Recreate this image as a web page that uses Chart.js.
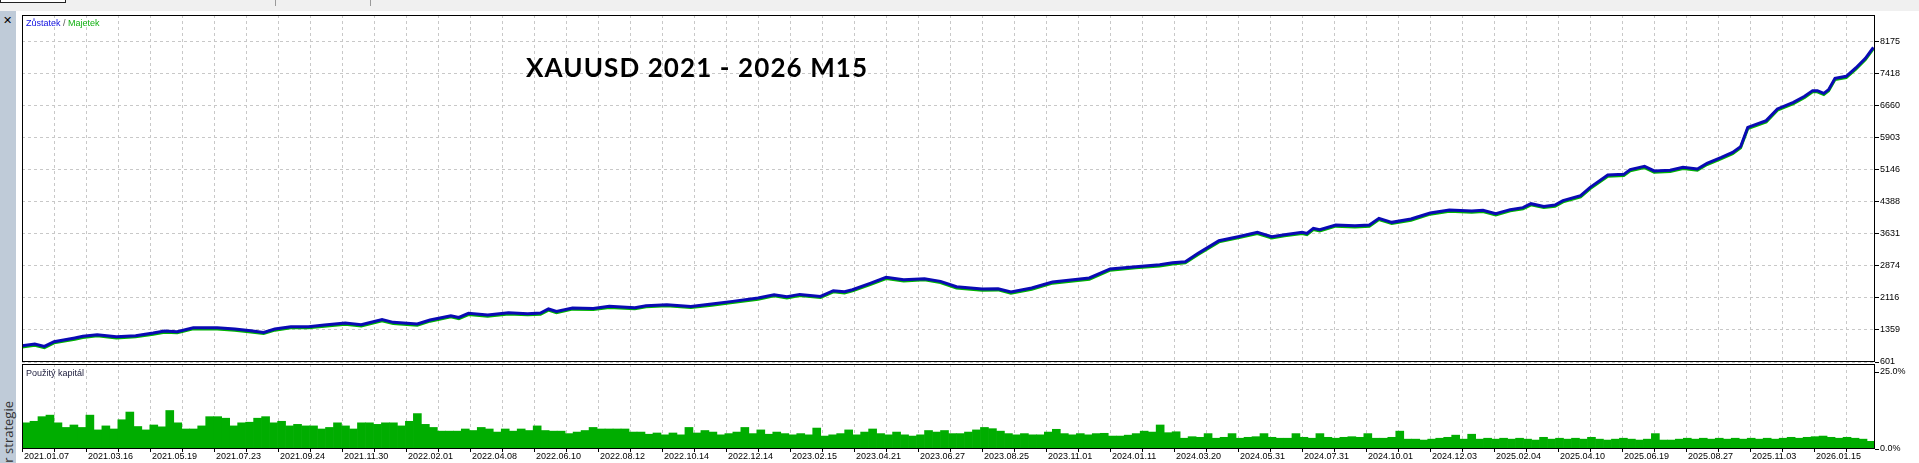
<!DOCTYPE html>
<html lang="cs">
<head>
<meta charset="UTF-8">
<title>XAUUSD 2021 - 2026 M15</title>
<script src="https://cdn.jsdelivr.net/npm/chart.js"></script>
<style>
  html, body { margin: 0; padding: 0; }
  body {
    width: 1919px; height: 463px; position: relative; overflow: hidden;
    background: #fff; font-family: "Liberation Sans", Arial, sans-serif;
  }
  .toolbar { position: absolute; left: 0; top: 0; width: 1919px; height: 11px; background: #f0f0f0; }
  .tab { position: absolute; left: 0; top: 0; width: 64px; height: 2px; border: 1px solid #222; border-top: none; background: #fff; }
  .sep { position: absolute; top: 0; width: 1px; height: 6px; background: #9a9a9a; }
  .side { position: absolute; left: 0; top: 11px; width: 16px; height: 452px; background: #bfcbd8; }
  .close { position: absolute; left: 3px; top: 15px; font: bold 11px "DejaVu Sans", sans-serif; line-height: 12px; color: #000; }
  .side-title {
    position: absolute; left: 0px; top: 531px; width: 130px; height: 16px;
    transform-origin: left top; transform: rotate(-90deg);
    text-align: right; font: 13px "Open Sans", sans-serif; line-height: 16px; color: #333; white-space: nowrap;
  }
  canvas { position: absolute; }
  #equity { left: 22px; top: 5px; }
  #capital { left: 22px; top: 356px; }
  .legend { position: absolute; left: 26px; top: 18px; font-size: 9px; line-height: 10px; }
  .legend .b { color: #1010e0; }
  .legend .s { color: #555; }
  .legend .g { color: #10b010; }
  .cap-label { position: absolute; left: 26px; top: 368px; font-size: 9px; line-height: 10px; color: #1a1a3a; }
  .title {
    position: absolute; left: 526px; top: 54px; font: bold 26px Lato, "Open Sans", sans-serif;
    letter-spacing: 1.1px; line-height: 26px; color: #000; white-space: nowrap;
  }
</style>
</head>
<body>
  <div class="toolbar">
    <div class="tab"></div>
    <div class="sep" style="left:275px"></div>
    <div class="sep" style="left:370px"></div>
  </div>
  <div class="side"></div>
  <div class="close">✕</div>
  <div class="side-title">Tester strategie</div>

  <canvas id="equity" width="1897" height="367"></canvas>
  <canvas id="capital" width="1897" height="107"></canvas>

  <div class="legend"><span class="b">Zůstatek</span><span class="s"> / </span><span class="g">Majetek</span></div>
  <div class="cap-label">Použitý kapitál</div>
  <div class="title">XAUUSD 2021 - 2026 M15</div>

<script>
// x is measured in half-grid steps of the tester's bar axis (a date label every 4 steps)
const X_MAX = 115.8;

const dateLabels = [
  '2021.01.07', '2021.03.16', '2021.05.19', '2021.07.23', '2021.09.24', '2021.11.30',
  '2022.02.01', '2022.04.08', '2022.06.10', '2022.08.12', '2022.10.14', '2022.12.14',
  '2023.02.15', '2023.04.21', '2023.06.27', '2023.08.25', '2023.11.01', '2024.01.11',
  '2024.03.20', '2024.05.31', '2024.07.31', '2024.10.01', '2024.12.03', '2025.02.04',
  '2025.04.10', '2025.06.19', '2025.08.27', '2025.11.03', '2026.01.15'
];

const balanceTicks = [601, 1359, 2116, 2874, 3631, 4388, 5146, 5903, 6660, 7418, 8175];
const capitalTicks = [0, 25];

// equity curve (Zůstatek / Majetek)
const equityStep = [
  0, 0.8, 1.4, 2.0, 3.3, 3.8, 4.7, 5.9, 7.1, 8.2,
  8.9, 9.7, 10.7, 12.2, 13.3, 14.3, 15.1, 15.8, 16.8, 17.9,
  18.9, 20.2, 21.2, 22.5, 23.2, 24.7, 25.5, 26.8, 27.3, 27.9,
  29.1, 30.4, 31.6, 32.4, 32.9, 33.4, 34.4, 35.7, 36.7, 38.3,
  39.0, 40.3, 41.8, 43.1, 44.4, 46.0, 47.0, 47.8, 48.6, 49.9,
  50.7, 51.4, 51.9, 53.0, 54.0, 55.1, 56.4, 57.4, 58.4, 60.0,
  61.0, 61.8, 63.1, 64.4, 65.4, 66.7, 68.0, 69.6, 71.1, 71.9,
  72.7, 73.5, 74.8, 76.0, 77.2, 78.1, 78.9, 80.0, 80.3, 80.7,
  81.1, 82.1, 83.3, 84.2, 84.8, 85.6, 86.8, 88.0, 89.2, 90.6,
  91.3, 92.1, 93.0, 93.8, 94.3, 95.1, 95.8, 96.3, 97.4, 98.0,
  99.1, 100.1, 100.5, 101.4, 102.0, 103.0, 103.8, 104.7, 105.3, 106.2,
  106.9, 107.4, 107.85, 109.0, 109.7, 110.7, 111.4, 111.9, 112.2, 112.6,
  112.9, 113.3, 114.0, 114.6, 115.2, 115.7
];
const equityBalance = [
  987, 1027, 971, 1082, 1170, 1208, 1248, 1200, 1224, 1288,
  1335, 1319, 1413, 1413, 1383, 1342, 1302, 1383, 1437, 1437,
  1477, 1525, 1484, 1603, 1539, 1501, 1596, 1697, 1657, 1752,
  1714, 1768, 1745, 1761, 1856, 1799, 1880, 1870, 1918, 1887,
  1934, 1958, 1917, 1974, 2036, 2116, 2194, 2147, 2201, 2154,
  2289, 2265, 2312, 2462, 2604, 2549, 2573, 2509, 2383, 2329,
  2336, 2258, 2353, 2495, 2533, 2589, 2803, 2857, 2904, 2951,
  2975, 3172, 3472, 3567, 3669, 3567, 3614, 3669, 3645, 3764,
  3733, 3844, 3827, 3844, 4000, 3906, 3986, 4128, 4199, 4175,
  4190, 4111, 4206, 4254, 4348, 4284, 4317, 4419, 4538, 4734,
  5027, 5042, 5153, 5231, 5122, 5137, 5208, 5170, 5302, 5444,
  5562, 5697, 6154, 6313, 6590, 6746, 6888, 7023, 7023, 6959,
  7047, 7314, 7362, 7560, 7787, 8048
];

// used capital in %, one bar per quarter grid cell
const capitalPct = [
  8.5, 9, 10.5, 11, 8.5, 7.0, 7.8, 7.0, 11, 6.2,
  7.5, 6.5, 9.5, 12, 7.3, 6.2, 7.8, 7.2, 12.5, 8.5,
  6.5, 6.5, 7.5, 10.5, 10.5, 10, 7.5, 8.5, 8.7, 10,
  10.5, 8.5, 9, 7.5, 8, 7.5, 7.5, 6.5, 7, 8.5,
  7.5, 6.5, 8.5, 8.5, 8, 8.5, 8.5, 7.5, 9, 11.5,
  8, 7, 5.8, 5.8, 5.8, 6.5, 6, 7, 6.5, 5.5,
  6.5, 5.8, 6.5, 6, 7.5, 6, 5.8, 5.8, 5, 5.5,
  6, 7, 6.5, 6.5, 6.5, 6.5, 5.5, 5.5,
  4.8, 5.2, 4.6, 5.2, 4.6, 7.0, 5.2, 6.0, 5.5, 4.6,
  5.0, 5.5, 7.0, 5.0, 6.2, 4.8, 5.5, 5.0, 4.6, 5.0,
  4.6, 6.8, 4.2, 4.6, 5.0, 6.2, 4.6, 5.5, 6.5, 5.0,
  4.6, 5.5, 4.6, 4.2, 4.6, 6.0, 5.5, 6.0, 5.0, 5.0,
  5.5, 6.2, 7.0, 6.6, 5.8, 5.0, 4.6, 5.0, 4.6, 4.6,
  5.5, 6.4, 5.0, 4.6, 5.0, 4.6, 5.0,
  5.1, 4.2, 4.2, 4.5, 5.0, 5.8, 5.5, 7.8, 5.3, 5.6,
  3.5, 4.0, 3.8, 5.0, 3.5, 3.8, 5.0, 3.5, 3.8, 4.0,
  5.0, 3.8, 3.5, 3.5, 5.0, 3.8, 3.5, 5.0, 3.8, 3.5,
  3.8, 4.0, 3.8, 5.0, 3.5, 3.5, 3.8, 5.8, 3.2, 3.2,
  2.9, 3.2, 3.5, 3.8, 4.5, 3.2, 4.8, 3.2, 3.5, 3.2,
  3.5, 3.2, 3.5, 3.2, 2.9, 3.8, 3.2, 3.5, 3.2, 3.5,
  3.2, 3.8, 3.2, 2.9, 3.2, 3.5, 3.2, 2.9, 3.2, 5.0,
  2.9, 2.9, 3.2, 3.5, 3.2, 3.5, 3.2, 3.5, 3.2, 3.5,
  3.2, 3.5, 3.2, 3.5, 3.2, 3.5, 3.8, 3.5, 3.8, 4.0,
  4.2, 3.8, 3.5, 3.8, 3.5, 3.2, 2.5
];

Chart.defaults.font.family = '"Liberation Sans", Arial, sans-serif';
Chart.defaults.font.size = 9;
Chart.defaults.color = '#000';

const GRID = '#c8c8c8';

// black frame round the plot area, like the tester window
const framePlugin = {
  id: 'frame',
  afterDatasetsDraw(chart) {
    const { ctx, chartArea: a } = chart;
    ctx.save();
    ctx.strokeStyle = '#000';
    ctx.lineWidth = 1;
    ctx.strokeRect(Math.round(a.left) + 0.5, Math.round(a.top) + 0.5,
      Math.round(a.right - a.left) - 1, Math.round(a.bottom - a.top) - 1);
    ctx.restore();
  }
};

// Majetek (drawn underneath) peeks out a hair below Zůstatek
const shiftPlugin = {
  id: 'shift',
  beforeDatasetDraw(chart, args) {
    if (args.index === 1) { chart.ctx.save(); chart.ctx.translate(0, 1.2); }
  },
  afterDatasetDraw(chart, args) {
    if (args.index === 1) chart.ctx.restore();
  }
};

// date labels start just right of their grid line, as in the tester
const dateLabelPlugin = {
  id: 'dateLabels',
  afterDraw(chart) {
    const s = chart.scales.xg;
    const ctx = chart.ctx;
    ctx.save();
    ctx.font = '9px "Liberation Sans", Arial, sans-serif';
    ctx.fillStyle = '#000';
    ctx.textAlign = 'left';
    ctx.textBaseline = 'middle';
    dateLabels.forEach((txt, i) => {
      ctx.fillText(txt, Math.round(s.getPixelForValue(i * 4)) + 2, chart.chartArea.bottom + 8);
    });
    ctx.restore();
  }
};

function gridSteps(scale) {
  const ticks = [];
  for (let v = 0; v <= X_MAX; v += 2) ticks.push({ value: v });
  scale.ticks = ticks;
}

const points = equityStep.map((t, i) => ({ x: t, y: equityBalance[i] }));

new Chart(document.getElementById('equity'), {
  type: 'line',
  data: {
    // dataset 0 is painted last, so Zůstatek goes first to sit on top
    datasets: [
      { label: 'Zůstatek', data: points, borderColor: '#0a0ab4', borderWidth: 3, pointRadius: 0, tension: 0 },
      { label: 'Majetek', data: points, borderColor: '#00b400', borderWidth: 3, pointRadius: 0, tension: 0 }
    ]
  },
  options: {
    responsive: false,
    animation: false,
    events: [],
    layout: { padding: { top: 10, bottom: 10, left: 0, right: 0 } },
    plugins: { legend: { display: false }, tooltip: { enabled: false } },
    scales: {
      x: {
        type: 'linear', min: 0, max: X_MAX, offset: false,
        afterBuildTicks: gridSteps,
        afterFit: s => { s.height = 0; },
        ticks: { display: false },
        grid: { color: GRID, drawTicks: false, offset: false },
        border: { display: false, dash: [3, 3] }
      },
      y: {
        position: 'right',
        min: 601, max: 8813,
        afterBuildTicks: s => { s.ticks = balanceTicks.map(v => ({ value: v })); },
        afterFit: s => { s.width = 44; },
        ticks: { padding: 1, callback: v => String(v) },
        grid: { color: GRID, tickLength: 4, tickColor: '#000' },
        border: { display: false, dash: [3, 3] }
      }
    }
  },
  plugins: [shiftPlugin, framePlugin]
});

new Chart(document.getElementById('capital'), {
  type: 'bar',
  data: {
    labels: capitalPct.map((_, i) => i),
    datasets: [{
      label: 'Použitý kapitál', data: capitalPct,
      backgroundColor: '#00ad00', borderWidth: 0,
      barPercentage: 1, categoryPercentage: 1, xAxisID: 'x'
    }]
  },
  options: {
    responsive: false,
    animation: false,
    events: [],
    layout: { padding: { top: 8, bottom: 0, left: 0, right: 0 } },
    plugins: { legend: { display: false }, tooltip: { enabled: false } },
    scales: {
      x: { type: 'category', display: false, offset: true },
      xg: {
        type: 'linear', position: 'bottom', min: 0, max: X_MAX, offset: false,
        afterBuildTicks: gridSteps,
        afterFit: s => { s.height = 14; },
        ticks: { display: false },
        grid: { color: GRID, tickLength: 3, tickColor: '#000', offset: false },
        border: { display: false, dash: [3, 3] }
      },
      y: {
        position: 'right', min: 0, max: 27.6,
        afterBuildTicks: s => { s.ticks = capitalTicks.map(v => ({ value: v })); },
        afterFit: s => { s.width = 44; },
        ticks: { padding: 1, callback: v => v.toFixed(1) + '%' },
        grid: { drawOnChartArea: false, tickLength: 4, tickColor: '#000' },
        border: { display: false }
      }
    }
  },
  plugins: [framePlugin, dateLabelPlugin]
});
</script>
</body>
</html>
